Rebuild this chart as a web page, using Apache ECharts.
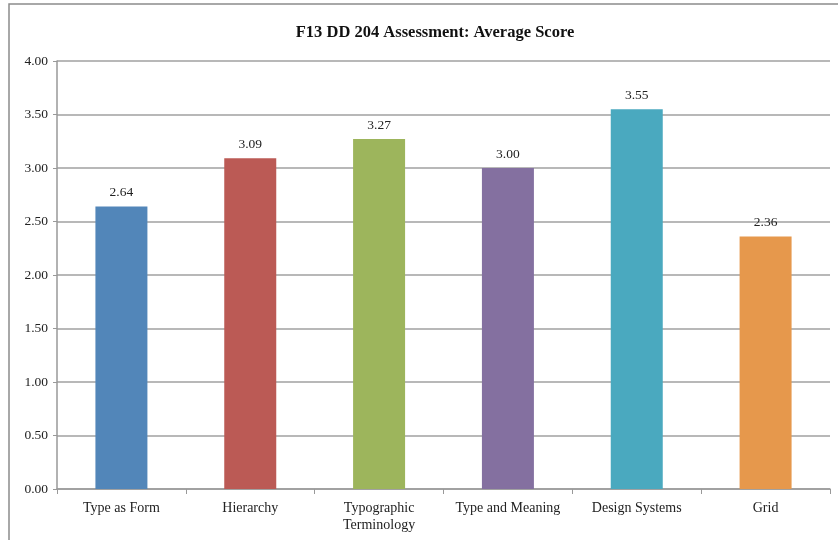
<!DOCTYPE html>
<html>
<head>
<meta charset="utf-8">
<script src="https://cdn.jsdelivr.net/npm/echarts@6/dist/echarts.min.js"></script>
<style>
  html, body { margin: 0; padding: 0; background: #fff; }
  #chart { width: 838px; height: 540px; }
</style>
</head>
<body>
<div id="chart"></div>
<script>
const categories = ['Type as Form', 'Hierarchy', 'Typographic\nTerminology', 'Type and Meaning', 'Design Systems', 'Grid'];
const scores = [2.64, 3.09, 3.27, 3.00, 3.55, 2.36];
const barColors = ['#5286b9', '#bb5a55', '#9db55c', '#8470a0', '#4aa9bf', '#e6984c'];

const serif = '"Liberation Serif", "DejaVu Serif", serif';
const chart = echarts.init(document.getElementById('chart'));

chart.setOption({
  animation: false,
  textStyle: { fontFamily: serif },
  graphic: [{
    type: 'rect',
    shape: { x: 9, y: 4, width: 860, height: 560 },
    style: { fill: 'none', stroke: '#8c8c8c', lineWidth: 1.5 },
    silent: true
  }],
  title: {
    text: 'F13 DD 204 Assessment: Average Score',
    left: 430,
    textAlign: 'center',
    top: 19,
    textStyle: { fontFamily: serif, fontWeight: 'bold', fontSize: 16.5, color: '#111' }
  },
  grid: { left: 57, right: 8, top: 61, bottom: 51 },
  xAxis: {
    type: 'category',
    data: categories,
    axisLine: { lineStyle: { color: '#999', width: 1.5 } },
    axisTick: { show: true, length: 5, lineStyle: { color: '#999' } },
    axisLabel: { color: '#222', fontSize: 14, margin: 11, lineHeight: 17, interval: 0 }
  },
  yAxis: {
    type: 'value',
    min: 0,
    max: 4,
    interval: 0.5,
    axisLine: { show: true, lineStyle: { color: '#999', width: 1.5 } },
    axisTick: { show: true, length: 4, lineStyle: { color: '#999' } },
    splitLine: { lineStyle: { color: '#a0a0a0', width: 1.5 } },
    axisLabel: { color: '#222', fontSize: 13.5, margin: 9, formatter: v => v.toFixed(2) }
  },
  series: [{
    type: 'bar',
    barWidth: 52,
    data: scores.map((v, i) => ({ value: v, itemStyle: { color: barColors[i] } })),
    label: {
      show: true,
      position: 'top',
      distance: 7,
      color: '#222',
      fontSize: 13.5,
      formatter: p => p.value.toFixed(2)
    }
  }]
});
</script>
</body>
</html>
